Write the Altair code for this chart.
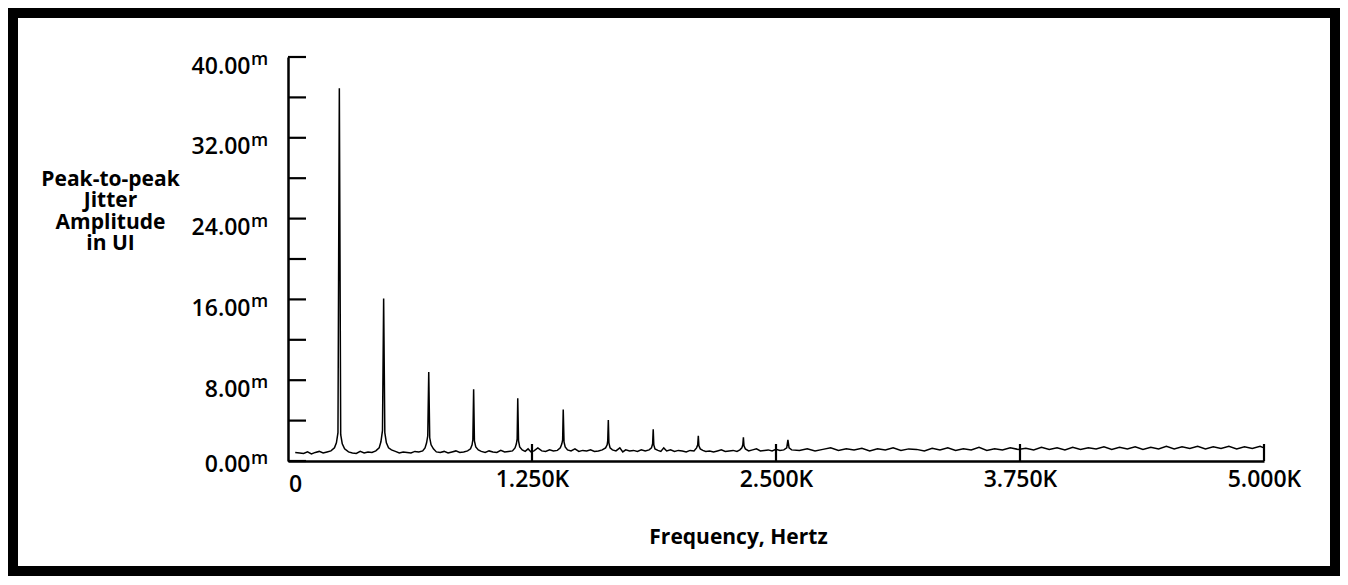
import altair as alt
import pandas as pd

# ---- data (frequency in Hz, amplitude in milli-UI) ----
FREQ_HZ = [
    37, 60, 80, 100, 120, 140, 160, 180, 200, 220, 238, 248, 256, 263, 270, 278, 290, 310, 330, 350,
    370, 390, 410, 430, 450, 467, 476, 484, 490, 496, 504, 515, 530, 550, 570, 590,
    610, 630, 650, 670, 690, 702, 710, 716, 721, 726, 733, 745, 760, 780, 800, 820, 840, 860, 880, 900,
    920, 935, 943, 947, 951, 955, 962, 975, 990, 1010, 1030, 1050, 1070, 1090, 1110, 1130, 1150,
    1163, 1170, 1174, 1177, 1181, 1187, 1200,
    1215, 1230, 1245, 1260, 1280, 1300, 1320, 1340, 1360, 1380, 1395, 1403, 1407, 1410, 1414, 1420, 1432,
    1450, 1470, 1490, 1510, 1530, 1550, 1570, 1590, 1610, 1627, 1635, 1638, 1641, 1644, 1650, 1662,
    1680, 1700, 1715, 1730, 1750, 1770, 1790, 1810, 1830, 1850, 1862, 1868, 1871, 1874, 1880, 1895,
    1910, 1925, 1940, 1960, 1980, 2000, 2020, 2040, 2060, 2080, 2093, 2099, 2102, 2105, 2112,
    2125, 2140, 2160, 2180, 2200, 2220, 2240, 2260, 2280, 2300, 2315, 2325, 2330, 2333, 2336, 2343,
    2360, 2380, 2400, 2420, 2440, 2460, 2480, 2500, 2520, 2540, 2555, 2561, 2567, 2580,
    2620, 2660, 2700, 2740, 2780, 2820, 2860, 2900, 2940, 2980,
    3020, 3060, 3100, 3140, 3180, 3220, 3260, 3300, 3340, 3380,
    3420, 3460, 3500, 3540, 3580, 3620, 3660, 3700, 3740, 3780,
    3820, 3860, 3900, 3940, 3980, 4020, 4060, 4100, 4140, 4180,
    4220, 4260, 4300, 4340, 4380, 4420, 4460, 4500, 4540, 4580,
    4620, 4660, 4700, 4740, 4780, 4820, 4860, 4900, 4940, 4980, 5000,
]
AMP_MUI = [
    0.85, 0.8, 0.75, 0.9, 0.7, 0.85, 0.95, 0.8, 0.9, 1.0, 1.3, 1.8, 2.8, 36.9, 2.6, 1.7, 1.2, 0.9, 0.8, 0.75,
    0.95, 0.8, 0.9, 0.85, 1.0, 1.3, 1.9, 3.0, 16.1, 2.8, 1.8, 1.3, 1.1, 0.95, 0.8, 0.9,
    0.85, 0.8, 0.95, 0.9, 1.0, 1.3, 1.8, 2.5, 8.8, 2.3, 1.6, 1.2, 0.9, 0.85, 0.95, 0.8, 0.9, 1.0, 0.85, 0.9,
    1.0, 1.2, 1.6, 2.1, 7.1, 2.0, 1.4, 1.1, 0.95, 0.85, 1.0, 0.9, 0.85, 1.05, 0.9, 0.95, 1.0,
    1.3, 1.7, 2.2, 6.2, 2.0, 1.4, 1.1,
    0.95, 1.2, 0.9, 1.0, 1.3, 1.0, 0.95, 1.1, 1.0, 1.05, 1.3, 1.7, 2.1, 5.1, 1.9, 1.4, 1.1,
    1.0, 1.2, 0.95, 1.05, 1.0, 1.1, 0.95, 1.0, 1.1, 1.3, 1.6, 2.0, 4.05, 1.8, 1.3, 1.1,
    1.0, 1.3, 0.9, 1.1, 1.0, 1.05, 0.95, 1.1, 1.0, 1.1, 1.3, 1.7, 3.15, 1.6, 1.2, 1.05,
    0.95, 1.3, 1.0, 1.1, 0.95, 1.05, 1.0, 0.9, 1.05, 1.0, 1.3, 1.6, 2.5, 1.5, 1.2,
    1.05, 0.95, 1.0, 0.9, 1.0, 1.1, 0.95, 1.0, 1.05, 0.95, 1.1, 1.3, 1.6, 2.35, 1.5, 1.2,
    1.0, 1.1, 1.2, 1.0, 1.05, 1.1, 1.0, 1.15, 1.05, 1.1, 1.3, 2.1, 1.3, 1.1,
    1.05, 1.2, 1.0, 1.15, 1.3, 1.05, 1.2, 1.1, 1.25, 1.0,
    1.2, 1.1, 1.3, 1.05, 1.2, 1.15, 1.0, 1.25, 1.1, 1.3,
    1.05, 1.2, 1.1, 1.35, 1.05, 1.2, 1.1, 1.3, 1.15, 1.25,
    1.1, 1.35, 1.15, 1.3, 1.1, 1.35, 1.15, 1.3, 1.2, 1.4,
    1.15, 1.35, 1.2, 1.4, 1.15, 1.35, 1.2, 1.45, 1.2, 1.4,
    1.25, 1.45, 1.2, 1.4, 1.25, 1.45, 1.2, 1.4, 1.25, 1.45, 1.3,
]
assert len(FREQ_HZ) == len(AMP_MUI)

Y_TICKS = [0, 4, 8, 12, 16, 20, 24, 28, 32, 36, 40]
Y_LABELS = [0, 8, 16, 24, 32, 40]
X_LABELS = [0, 1250, 2500, 3750, 5000]
X_TICKS = [1250, 2500, 3750, 5000]
Y_TITLE = ["Peak-to-peak", "Jitter", "Amplitude", "in UI"]
X_TITLE = "Frequency, Hertz"
UNIT = "m"

FONT = "Open Sans"
W, H = 976, 404

df = pd.DataFrame({"f": FREQ_HZ, "a": AMP_MUI})
xs = alt.Scale(domain=[0, 5000], nice=False, zero=False)
ys = alt.Scale(domain=[0, 40], nice=False)

x_axis = alt.Axis(
    values=X_LABELS,
    labelExpr="datum.value == 0 ? '0' : format(datum.value / 1000, '.3f') + 'K'",
    ticks=False, grid=False,
    domain=True, domainColor="black", domainWidth=2.5,
    labelFont=FONT, labelFontSize=23, labelColor="black", labelFontWeight=600,
    labelPadding={"condition": {"test": "datum.value === 0", "value": 12}, "value": 7},
    labelOffset={"condition": {"test": "datum.value === 0", "value": 7}, "value": 0},
    labelFlush=False, labelOverlap=False,
    title=X_TITLE, titleFont=FONT, titleFontSize=21, titleFontWeight="bold", titleColor="black",
    titleX=450, titleY=82, titleAlign="center", titleBaseline="alphabetic", titleAnchor="start",
)
y_axis = alt.Axis(
    values=Y_LABELS,
    labelExpr="format(datum.value, '.2f')",
    ticks=False, grid=False,
    domain=True, domainColor="black", domainWidth=2.5,
    labelFont=FONT, labelFontSize=23, labelColor="black", labelFontWeight=600,
    labelPadding=38, labelBaseline="top",
    labelOffset={"condition": {"test": "datum.value === 0", "value": -8}, "value": -2},
    labelFlush=False, labelOverlap=False,
    title=Y_TITLE, titleFont=FONT, titleFontSize=21, titleFontWeight="bold", titleColor="black",
    titleAngle=0, titleX=-178, titleY=111, titleAlign="center", titleBaseline="top",
    titleLineHeight=21.5, titleAnchor="start",
)

line = alt.Chart(df).mark_line(color="black", strokeWidth=1.5).encode(
    x=alt.X("f:Q", scale=xs, axis=x_axis),
    y=alt.Y("a:Q", scale=ys, axis=y_axis),
)

ytick_df = pd.DataFrame({"v": Y_TICKS})
yticks = alt.Chart(ytick_df).mark_rule(color="black", strokeWidth=2.2).encode(
    y=alt.Y("v:Q", scale=ys), x=alt.value(0), x2=alt.value(18)
)
xtick_df = pd.DataFrame({"v": X_TICKS})
xticks = alt.Chart(xtick_df).mark_rule(color="black", strokeWidth=2.2).encode(
    x=alt.X("v:Q", scale=xs), y=alt.value(H), y2=alt.value(H - 17)
)

unit_df = pd.DataFrame({"v": Y_LABELS, "u": [UNIT] * len(Y_LABELS)})
unit_top = alt.Chart(unit_df).transform_filter("datum.v > 0").mark_text(
    align="left", baseline="top", font=FONT, fontSize=18, fontWeight=600, color="black", dy=-6
).encode(y=alt.Y("v:Q", scale=ys), x=alt.value(-37), text="u:N")
unit_zero = alt.Chart(unit_df).transform_filter("datum.v == 0").mark_text(
    align="left", baseline="top", font=FONT, fontSize=18, fontWeight=600, color="black", dy=-11
).encode(y=alt.Y("v:Q", scale=ys), x=alt.value(-37), text="u:N")

frame = alt.Chart(pd.DataFrame({"k": [0]})).mark_rect(
    filled=False, stroke="black", strokeWidth=10
).encode(x=alt.value(-275), x2=alt.value(1047), y=alt.value(-44), y2=alt.value(514))

chart = alt.layer(line, yticks, xticks, unit_top, unit_zero, frame).properties(
    width=W, height=H, padding=0, background="white"
).configure_view(stroke=None)

chart.save("out.html", embed_options={"renderer": "svg", "actions": False})
